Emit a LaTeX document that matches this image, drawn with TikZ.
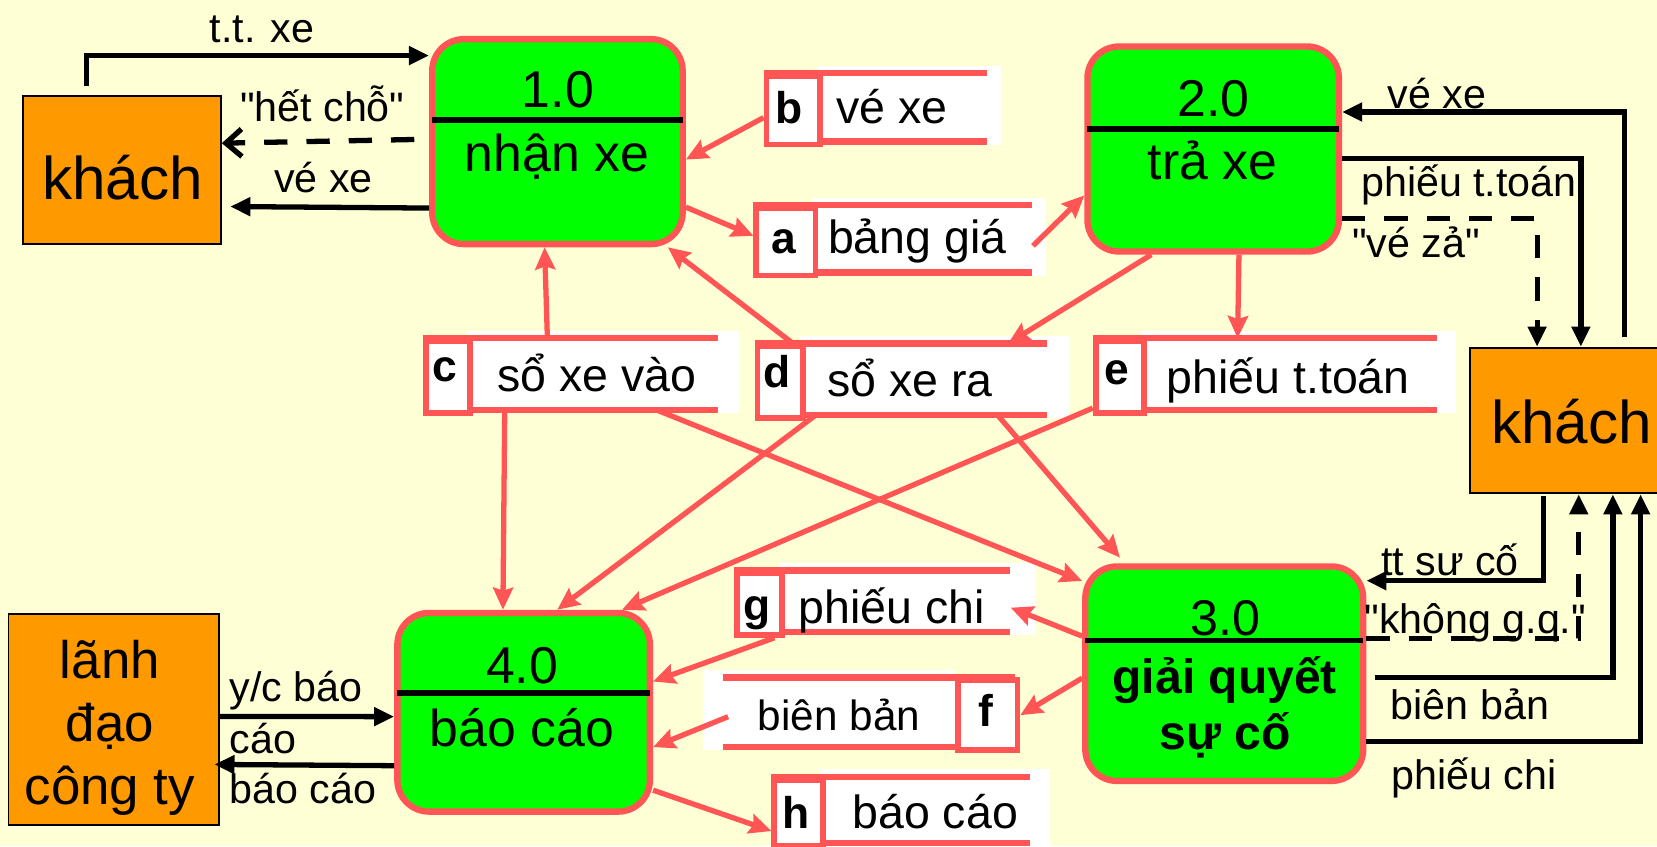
\documentclass[tikz,border=0pt]{standalone}
\usepackage{fontspec}
\setmainfont{Liberation Sans}
\newfontfamily\dfdfont{Liberation Sans}
\usetikzlibrary{arrows.meta,calc}

\definecolor{dfdred}{RGB}{255,85,85}
\definecolor{dfdgreen}{RGB}{0,255,0}
\definecolor{dfdorange}{RGB}{255,153,0}
\definecolor{slidebg}{RGB}{255,255,214}

\newcommand{\fsz}[1]{\dfdfont\fontsize{#1}{#1}\selectfont}

% data store: name, x left, x of id/text split, x end of red lines, x end of white, y top, y bottom
\newcommand{\datastore}[7]{%
  \fill[white] (#3,#6-7) rectangle (#5,#7+3);
  \draw[storeline] (#2,#6) -- (#4,#6) (#2,#7) -- (#4,#7);
  \node[storeid, minimum width=#3-#2, minimum height=#7-#6, anchor=north west] (#1-id) at (#2,#6) {};
  \node[storebox, minimum width=#4-#3, minimum height=#7-#6, anchor=north west] (#1) at (#3,#6) {};
}

\tikzset{
  dfdproc/.style={draw=dfdred, line width=6pt, fill=dfdgreen, rounded corners=30pt, inner sep=0pt},
  dfdentity/.style={draw=black, line width=1.8pt, fill=dfdorange, inner sep=0pt},
  storeid/.style={draw=dfdred, line width=5.5pt, fill=white, inner sep=0pt},
  storebox/.style={inner sep=0pt},
  storeline/.style={dfdred, line width=6pt},
  divider/.style={line width=5.5pt, shorten <=3pt, shorten >=3pt},
  flowline/.style={line width=5pt, -{Triangle[length=19pt,width=17pt]}},
  dashflow/.style={flowline, dash pattern=on 22pt off 18pt},
  storeflow/.style={dfdred, line width=5pt, -{Stealth[length=21pt,width=19pt,inset=3pt]}},
  flowlbl/.style={font=\fsz{39}, inner sep=0pt, anchor=base},
  proclbl/.style={font=\fsz{49}, inner sep=0pt, anchor=base},
  entlbl/.style={font=\fsz{57}, inner sep=0pt, anchor=base},
  idlbl/.style={font=\fsz{42}\bfseries, inner sep=0pt, anchor=base},
  namelbl/.style={font=\fsz{44}, inner sep=0pt, anchor=base},
}

\begin{document}
\begin{tikzpicture}[x=1pt, y=-1pt]
  \useasboundingbox (0,0) rectangle (1568,801);
  \fill[slidebg] (0,0) rectangle (1568,801);

  % data stores
  \datastore{b}{722.5}{773}{934}{947}{69}{134}
  \datastore{a}{713}{769}{977}{990}{194}{258}
  \datastore{c}{400}{442}{679}{699}{320}{388}
  \datastore{d}{714}{757}{991}{1012}{325}{393}
  \datastore{e}{1034}{1080}{1360}{1378}{320}{388}
  \datastore{g}{694.5}{737}{956}{979}{540}{598}
  \datastore{h}{730}{776}{975}{994}{735}{798}
  % f has its id on the right
  \fill[white] (665,634) rectangle (904,710);
  \draw[storeline] (684,641) -- (960,641) (684,707) -- (960,707);
  \node[storeid, minimum width=56, minimum height=66, anchor=north west] (f-id) at (904,641) {};
  \node[storebox, minimum width=220, minimum height=66, anchor=north west] (f) at (684,641) {};

  \foreach \s/\id/\ix/\iy/\txt/\tx/\ty in {%
      b/b/747/117.3/vé xe/844/117.3, a/a/742/239.7/bảng giá/868/239.7,
      c/c/421/361/sổ xe vào/565/370.6, d/d/735.5/367/sổ xe ra/861/375.4,
      e/e/1057/364.3/phiếu t.toán/1219/372.2, g/g/716/587/phiếu chi/844/589.8,
      h/h/753/783.7/báo cáo/885/783.8}{%
    \node[idlbl] (\s-idl) at (\ix,\iy) {\id};
    \node[namelbl] (\s-txt) at (\tx,\ty) {\txt};
  }
  \node[idlbl] (f-idl) at (933,687.6) {f};
  \node[namelbl, font=\fsz{40}] (f-txt) at (794,690.8) {biên bản};

  % processes
  \node[dfdproc, minimum width=237, minimum height=194] (p1) at (527.5,134) {};
  \node[dfdproc, minimum width=238, minimum height=194] (p2) at (1148,141) {};
  \node[dfdproc, minimum width=263, minimum height=203] (p3) at (1158.5,637.5) {};
  \node[dfdproc, minimum width=239, minimum height=188] (p4) at (495.5,674) {};
  \draw[divider] ($(p1.north west)!.397!(p1.south west)$) -- ($(p1.north east)!.397!(p1.south east)$);
  \draw[divider] ($(p2.north west)!.407!(p2.south west)$) -- ($(p2.north east)!.407!(p2.south east)$);
  \draw[divider] ($(p3.north west)!.35!(p3.south west)$) -- ($(p3.north east)!.35!(p3.south east)$);
  \draw[divider] ($(p4.north west)!.407!(p4.south west)$) -- ($(p4.north east)!.407!(p4.south east)$);
  \node[proclbl] (p1-no) at (528,102) {1.0};
  \node[proclbl] (p1-name) at (527,162) {nhận xe};
  \node[proclbl] (p2-no) at (1148.5,110) {2.0};
  \node[proclbl] (p2-name) at (1147.5,170) {trả xe};
  \node[proclbl, font=\fsz{47.5}] (p3-no) at (1160,601) {3.0};
  \node[proclbl, font=\fsz{45.5}\bfseries] (p3-name) at (1159,656) {giải quyết};
  \node[proclbl, font=\fsz{45.5}\bfseries] (p3-name2) at (1159.5,709.5) {sự cố};
  \node[proclbl] (p4-no) at (494,646.5) {4.0};
  \node[proclbl] (p4-name) at (494,706) {báo cáo};

  % external entities
  \node[dfdentity, minimum width=187, minimum height=140] (khL) at (115.5,161) {};
  \node[dfdentity, minimum width=200, minimum height=138, anchor=north west] (khR) at (1390,328) {};
  \node[dfdentity, minimum width=199, minimum height=200] (boss) at (107.5,681) {};
  \node[entlbl] (khL-txt) at (116,189) {khách};
  \node[entlbl] (khR-txt) at (1487,419.5) {khách};
  \node[entlbl, font=\fsz{50}] (boss-1) at (104,642) {lãnh};
  \node[entlbl, font=\fsz{50}] (boss-2) at (104,701.6) {đạo};
  \node[entlbl, font=\fsz{50}] (boss-3) at (104,761.5) {công ty};

  % flows to and from the stores
  \draw[storeflow] ($(b-id.north west)!.6!(b-id.south west)$) -- ($(p1.north east)!.585!(p1.south east)$);
  \draw[storeflow] ($(p1.north east)!.81!(p1.south east)$) -- ($(a-id.north west)!.42!(a-id.south west)$);
  \draw[storeflow] ($(a.north east)!.6!(a.south east)$) -- ($(p2.north west)!.72!(p2.south west)$);
  \draw[storeflow] ($(c.north west)!.32!(c.north east)$) -- ($(p1.south west)!.45!(p1.south east)$);
  \draw[storeflow] ($(d-id.north west)!.75!(d-id.north east)$) -- ($(p1.south west)!.93!(p1.south east)$);
  \draw[storeflow] ($(p2.south west)!.26!(p2.south east)$) -- ($(d.north west)!.84!(d.north east)$);
  \draw[storeflow] ($(p2.south west)!.6!(p2.south east)$) -- ($(e.north west)!.325!(e.north east)$);
  \draw[storeflow] ($(c.south west)!.15!(c.south east)$) -- ($(p4.north west)!.42!(p4.north east)$);
  \draw[storeflow] ($(c.south west)!.76!(c.south east)$) -- ($(p3.north west)!.08!(p3.south west)$);
  \draw[storeflow] ($(d.south west)!.06!(d.south east)$) -- ($(p4.north west)!.63!(p4.north east)$);
  \draw[storeflow, shorten >=7pt] ($(d.south west)!.8!(d.south east)$) -- ($(p3.north west)!.15!(p3.north east)$);
  \draw[storeflow] ($(e-id.north west)!.9!(e-id.south west)$) -- ($(p4.north west)!.88!(p4.north east)$);
  \draw[storeflow] ($(p3.north west)!.33!(p3.south west)$) -- ($(g.north east)!.6!(g.south east)$);
  \draw[storeflow] ($(g-id.south west)!.8!(g-id.south east)$) -- ($(p4.north east)!.35!(p4.south east)$);
  \draw[storeflow] ($(p3.north west)!.52!(p3.south west)$) -- (f-id.east);
  \draw[storeflow] ($(f.north west)!.56!(f.south west)+(5,0)$) -- ($(p4.north east)!.67!(p4.south east)$);
  \draw[storeflow] ($(p4.north east)!.88!(p4.south east)$) -- ($(h-id.north west)!.75!(h-id.south west)$);

  % flows with the entities
  \draw[flowline] ($(khL.north west)!.32!(khL.north east)+(0,-9)$) |- ($(p1.north west)!.093!(p1.south west)$);
  \draw[dashflow, -{Straight Barb[length=15pt,width=26pt]}] ($(p1.north west)!.49!(p1.south west)+(-14,0)$) -- ($(khL.north east)!.32!(khL.south east)$);
  \draw[flowline] ($(p1.north west)!.8144!(p1.south west)$) -- ($(khL.north east)!.7429!(khL.south east)+(8,0)$);
  \draw[flowline] ($(khR.north west)!.73!(khR.north east)+(0,-9)$) |- ($(p2.north east)!.325!(p2.south east)$);
  \draw[flowline] ($(p2.north east)!.546!(p2.south east)$) -| ($(khR.north west)!.525!(khR.north east)$);
  \draw[dashflow] ($(p2.north east)!.83!(p2.south east)$) -| ($(khR.north west)!.32!(khR.north east)$);
  \draw[flowline] ($(khR.south west)!.35!(khR.south east)+(0,2)$) |- ($(p3.north east)!.079!(p3.south east)$);
  \draw[dashflow] ($(p3.north east)!.34!(p3.south east)$) -| ($(khR.south west)!.515!(khR.south east)$);
  \draw[flowline] ($(p3.north east)!.517!(p3.south east)+(8,0)$) -| ($(khR.south west)!.675!(khR.south east)$);
  \draw[flowline] ($(p3.north east)!.808!(p3.south east)$) -| ($(khR.south west)!.805!(khR.south east)$);
  \draw[flowline] ($(boss.north east)!.485!(boss.south east)$) -- ($(p4.north west)!.5213!(p4.south west)$);
  \draw[flowline] ($(p4.north west)!.7606!(p4.south west)$) -- ($(boss.north east)!.71!(boss.south east)+(-5,0)$);

  \node[flowlbl] (l-tt) at (248,40) {t.t. xe};
  \node[flowlbl] (l-full) at (305,115) {"hết chỗ"};
  \node[flowlbl] (l-ticket1) at (306,182) {vé xe};
  \node[flowlbl] (l-ticket2) at (1360,103) {vé xe};
  \node[flowlbl] (l-pay) at (1390,186) {phiếu t.toán};
  \node[flowlbl] (l-fake) at (1340,244) {"vé zả"};
  \node[flowlbl] (l-inc) at (1372,545) {tt sư cố};
  \node[flowlbl] (l-unres) at (1396,599) {"không g.q."};
  \node[flowlbl] (l-minutes) at (1391,681) {biên bản};
  \node[flowlbl] (l-voucher) at (1395,747) {phiếu chi};
  \node[flowlbl, anchor=base west] (l-req1) at (217,664) {y/c báo};
  \node[flowlbl, anchor=base west] (l-req2) at (217,713) {cáo};
  \node[flowlbl, anchor=base west] (l-rep) at (217,760) {báo cáo};
\end{tikzpicture}
\end{document}
